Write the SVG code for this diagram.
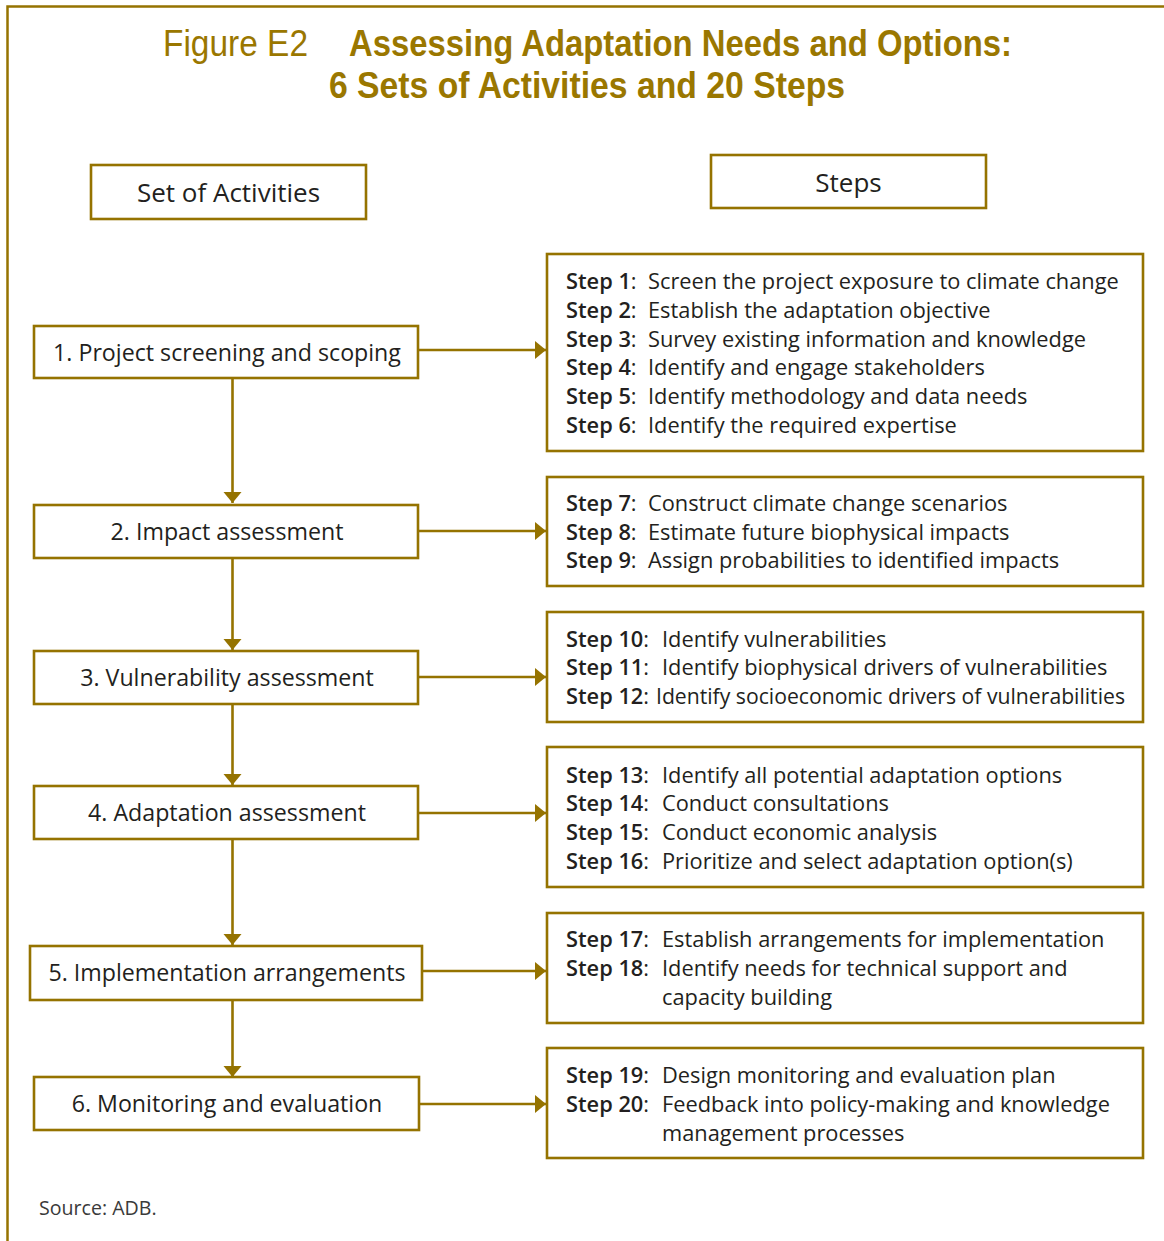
<svg xmlns="http://www.w3.org/2000/svg" width="1164" height="1241" viewBox="0 0 1164 1241">
<style>
.frame{fill:none;stroke:#957300;stroke-width:2.5}
.box{fill:#fff;stroke:#957300;stroke-width:2.6}
.ln{fill:none;stroke:#957300;stroke-width:2.6}
.t1{font-family:"Liberation Sans",Arial,sans-serif;font-size:36px;fill:#9a7700}
.tb{font-weight:700}
.hd{font-family:"Open Sans","Noto Sans",sans-serif;font-size:26px;fill:#231f20;text-anchor:middle}
.lab{font-family:"Open Sans","Noto Sans",sans-serif;font-size:23.2px;fill:#231f20;text-anchor:middle}
.st{font-family:"Open Sans","Noto Sans",sans-serif;font-size:21.8px;fill:#231f20}
.sb{font-weight:600}
.src{font-family:"Open Sans","Noto Sans",sans-serif;font-size:19.6px;fill:#3a3a3a}
</style>
<defs>
<marker id="ah" markerUnits="userSpaceOnUse" markerWidth="20" markerHeight="20" refX="11" refY="9" orient="auto">
<path d="M0,0 L11,9 L0,18 Z" fill="#957300"/>
</marker>
</defs>
<rect width="1164" height="1241" fill="#fff"/>
<path class="frame" d="M7.5,1241 V6.5 H1164"/>
<g id="title">
<text class="t1" x="163" y="56" textLength="145" lengthAdjust="spacingAndGlyphs">Figure E2</text>
<text class="t1 tb" x="349" y="56" textLength="663" lengthAdjust="spacingAndGlyphs">Assessing Adaptation Needs and Options:</text>
<text class="t1 tb" x="329" y="98" textLength="516" lengthAdjust="spacingAndGlyphs">6 Sets of Activities and 20 Steps</text>
</g>
<g id="hdr-activities"><rect class="box" x="91" y="165" width="275" height="54"/><text class="hd" x="228.5" y="202">Set of Activities</text></g>
<g id="hdr-steps"><rect class="box" x="711" y="155" width="275" height="53"/><text class="hd" x="848.5" y="192">Steps</text></g>
<g id="connectors">
<line class="ln" x1="232.5" y1="378" x2="232.5" y2="503" marker-end="url(#ah)"/>
<line class="ln" x1="232.5" y1="558" x2="232.5" y2="650" marker-end="url(#ah)"/>
<line class="ln" x1="232.5" y1="704" x2="232.5" y2="785" marker-end="url(#ah)"/>
<line class="ln" x1="232.5" y1="839" x2="232.5" y2="945" marker-end="url(#ah)"/>
<line class="ln" x1="232.5" y1="1000" x2="232.5" y2="1077" marker-end="url(#ah)"/>
<line class="ln" x1="418" y1="350" x2="546" y2="350" marker-end="url(#ah)"/>
<line class="ln" x1="418" y1="531" x2="546" y2="531" marker-end="url(#ah)"/>
<line class="ln" x1="418" y1="677" x2="546" y2="677" marker-end="url(#ah)"/>
<line class="ln" x1="418" y1="813" x2="546" y2="813" marker-end="url(#ah)"/>
<line class="ln" x1="422" y1="971" x2="546" y2="971" marker-end="url(#ah)"/>
<line class="ln" x1="419" y1="1104" x2="546" y2="1104" marker-end="url(#ah)"/>
</g>
<g id="act1"><rect class="box" x="34" y="326" width="384" height="52"/><text class="lab" x="227" y="361">1. Project screening and scoping</text></g>
<g id="act2"><rect class="box" x="34" y="505" width="384" height="53"/><text class="lab" x="227" y="540">2. Impact assessment</text></g>
<g id="act3"><rect class="box" x="34" y="651" width="384" height="53"/><text class="lab" x="227" y="686">3. Vulnerability assessment</text></g>
<g id="act4"><rect class="box" x="34" y="786" width="384" height="53"/><text class="lab" x="227" y="821">4. Adaptation assessment</text></g>
<g id="act5"><rect class="box" x="30" y="946" width="392" height="54"/><text class="lab" x="227" y="981">5. Implementation arrangements</text></g>
<g id="act6"><rect class="box" x="34" y="1077" width="385" height="53"/><text class="lab" x="227" y="1112">6. Monitoring and evaluation</text></g>
<g id="steps1"><rect class="box" x="547" y="254" width="596" height="197"/>
<text class="st" y="289"><tspan class="sb" x="566">Step 1</tspan>:<tspan x="648">Screen the project exposure to climate change</tspan></text>
<text class="st" y="318"><tspan class="sb" x="566">Step 2</tspan>:<tspan x="648">Establish the adaptation objective</tspan></text>
<text class="st" y="347"><tspan class="sb" x="566">Step 3</tspan>:<tspan x="648">Survey existing information and knowledge</tspan></text>
<text class="st" y="375"><tspan class="sb" x="566">Step 4</tspan>:<tspan x="648">Identify and engage stakeholders</tspan></text>
<text class="st" y="404"><tspan class="sb" x="566">Step 5</tspan>:<tspan x="648">Identify methodology and data needs</tspan></text>
<text class="st" y="433"><tspan class="sb" x="566">Step 6</tspan>:<tspan x="648">Identify the required expertise</tspan></text>
</g>
<g id="steps2"><rect class="box" x="547" y="477" width="596" height="109"/>
<text class="st" y="511"><tspan class="sb" x="566">Step 7</tspan>:<tspan x="648">Construct climate change scenarios</tspan></text>
<text class="st" y="540"><tspan class="sb" x="566">Step 8</tspan>:<tspan x="648">Estimate future biophysical impacts</tspan></text>
<text class="st" y="568"><tspan class="sb" x="566">Step 9</tspan>:<tspan x="648">Assign probabilities to identified impacts</tspan></text>
</g>
<g id="steps3"><rect class="box" x="547" y="612" width="596" height="110"/>
<text class="st" y="647"><tspan class="sb" x="566">Step 10</tspan>:<tspan x="662">Identify vulnerabilities</tspan></text>
<text class="st" y="675"><tspan class="sb" x="566">Step 11</tspan>:<tspan x="662">Identify biophysical drivers of vulnerabilities</tspan></text>
<text class="st" y="704"><tspan class="sb" x="566">Step 12</tspan>:<tspan x="656" textLength="469" lengthAdjust="spacingAndGlyphs">Identify socioeconomic drivers of vulnerabilities</tspan></text>
</g>
<g id="steps4"><rect class="box" x="547" y="747" width="596" height="140"/>
<text class="st" y="783"><tspan class="sb" x="566">Step 13</tspan>:<tspan x="662">Identify all potential adaptation options</tspan></text>
<text class="st" y="811"><tspan class="sb" x="566">Step 14</tspan>:<tspan x="662">Conduct consultations</tspan></text>
<text class="st" y="840"><tspan class="sb" x="566">Step 15</tspan>:<tspan x="662">Conduct economic analysis</tspan></text>
<text class="st" y="869"><tspan class="sb" x="566">Step 16</tspan>:<tspan x="662">Prioritize and select adaptation option(s)</tspan></text>
</g>
<g id="steps5"><rect class="box" x="547" y="913" width="596" height="110"/>
<text class="st" y="947"><tspan class="sb" x="566">Step 17</tspan>:<tspan x="662">Establish arrangements for implementation</tspan></text>
<text class="st" y="976"><tspan class="sb" x="566">Step 18</tspan>:<tspan x="662">Identify needs for technical support and</tspan></text>
<text class="st" x="662" y="1005">capacity building</text>
</g>
<g id="steps6"><rect class="box" x="547" y="1048" width="596" height="110"/>
<text class="st" y="1083"><tspan class="sb" x="566">Step 19</tspan>:<tspan x="662">Design monitoring and evaluation plan</tspan></text>
<text class="st" y="1112"><tspan class="sb" x="566">Step 20</tspan>:<tspan x="662">Feedback into policy-making and knowledge</tspan></text>
<text class="st" x="662" y="1141">management processes</text>
</g>
<text class="src" x="39" y="1215">Source: ADB.</text>
</svg>
